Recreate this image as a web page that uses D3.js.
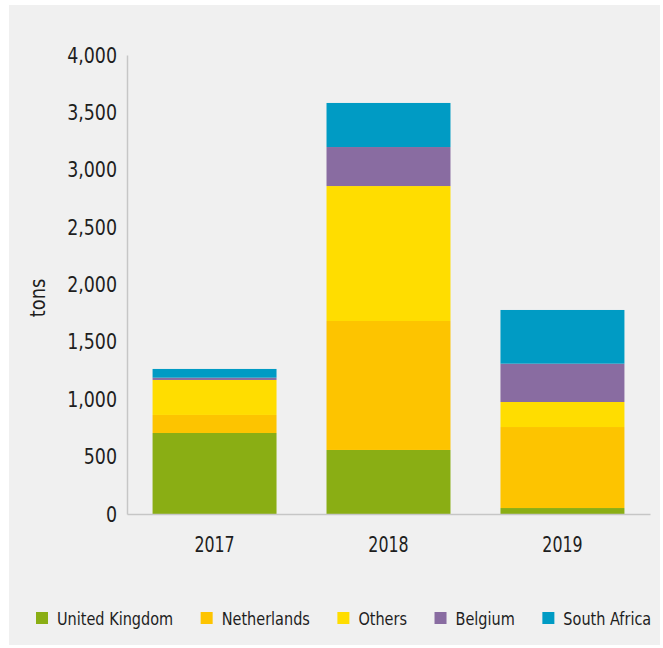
<!DOCTYPE html>
<html>
<head>
<meta charset="utf-8">
<script src="https://cdn.jsdelivr.net/npm/d3@7"></script>
<style>
  html, body { margin: 0; padding: 0; background: #ffffff; }
  svg { display: block; }
  text { font-family: "DejaVu Sans Condensed", "DejaVu Sans", sans-serif; fill: #1e1e1e; }
</style>
</head>
<body>
<svg id="chart" width="663" height="648"></svg>
<script>
// Tonnage by origin, stacked per year
const years = ["2017", "2018", "2019"];
const seriesNames = ["United Kingdom", "Netherlands", "Others", "Belgium", "South Africa"];
const unitedKingdom = [706, 558, 52];
const netherlands   = [157, 1124, 706];
const others        = [305, 1176, 218];
const belgium       = [20, 340, 334];
const southAfrica   = [76, 384, 468];
const yTicks = [0, 500, 1000, 1500, 2000, 2500, 3000, 3500, 4000];
const colors = ["#8aae14", "#fdc400", "#ffdd00", "#896ca1", "#009bc4"];

const seriesValues = [unitedKingdom, netherlands, others, belgium, southAfrica];
const rows = years.map((y, i) => {
  const r = { year: y };
  seriesNames.forEach((s, j) => { r[s] = seriesValues[j][i]; });
  return r;
});

// squeeze glyphs horizontally for a narrower, DIN-like label face
function condense(sel, factor) {
  sel.each(function () {
    const w = this.getComputedTextLength();
    d3.select(this)
      .attr("textLength", w * factor)
      .attr("lengthAdjust", "spacingAndGlyphs");
  });
}

const svg = d3.select("#chart");

// panel background
svg.append("rect")
  .attr("x", 9).attr("y", 5)
  .attr("width", 651).attr("height", 640)
  .attr("fill", "#f0f0f0");

const x = d3.scaleBand()
  .domain(years)
  .range([127, 650])
  .paddingInner(0.2874)
  .paddingOuter(0.147);

const y = d3.scaleLinear()
  .domain([0, 4000])
  .range([514, 55]);

const color = d3.scaleOrdinal().domain(seriesNames).range(colors);

const stacked = d3.stack().keys(seriesNames)(rows);

svg.append("g")
  .selectAll("g")
  .data(stacked)
  .join("g")
    .attr("fill", d => color(d.key))
  .selectAll("rect")
  .data(d => d)
  .join("rect")
    .attr("x", d => x(d.data.year))
    .attr("width", x.bandwidth())
    .attr("y", d => y(d[1]))
    .attr("height", d => y(d[0]) - y(d[1]));

// y axis
const yAxis = svg.append("g")
  .attr("transform", "translate(127,0)")
  .call(d3.axisLeft(y).tickValues(yTicks).tickSize(0).tickPadding(10)
        .tickFormat(d3.format(",")));
yAxis.select(".domain").attr("stroke", "#c6c6c6").attr("stroke-width", 1.5);
yAxis.selectAll("text")
  .attr("fill", "#1e1e1e")
  .style("font-size", "22px")
  .style("font-family", "'DejaVu Sans Condensed', 'DejaVu Sans', sans-serif")
  .call(condense, 0.88);

// x axis
const xAxis = svg.append("g")
  .attr("transform", "translate(0,514)")
  .call(d3.axisBottom(x).tickSize(0).tickPadding(22));
xAxis.select(".domain").attr("stroke", "#c6c6c6").attr("stroke-width", 1.5);
xAxis.selectAll("text")
  .attr("fill", "#1e1e1e")
  .style("font-size", "22px")
  .style("font-family", "'DejaVu Sans Condensed', 'DejaVu Sans', sans-serif")
  .call(condense, 0.8);

// axis title
svg.append("text")
  .attr("transform", "translate(45,298) rotate(-90)")
  .attr("text-anchor", "middle")
  .style("font-size", "21px")
  .text("tons")
  .call(condense, 0.95);

// legend: swatch + horizontally squeezed label, laid out left to right
const squeeze = 0.87;
const legend = svg.append("g").attr("transform", "translate(36,612)");
let cursor = 0;
seriesNames.forEach((name) => {
  const item = legend.append("g").attr("transform", `translate(${cursor},0)`);
  item.append("rect")
    .attr("width", 12).attr("height", 12)
    .attr("fill", color(name));
  const t = item.append("text")
    .attr("transform", `translate(21,12.5) scale(${squeeze},1)`)
    .style("font-size", "18.5px")
    .text(name);
  const w = t.node().getComputedTextLength() * squeeze;
  cursor += 21 + w + 27.5;
});
</script>
</body>
</html>
